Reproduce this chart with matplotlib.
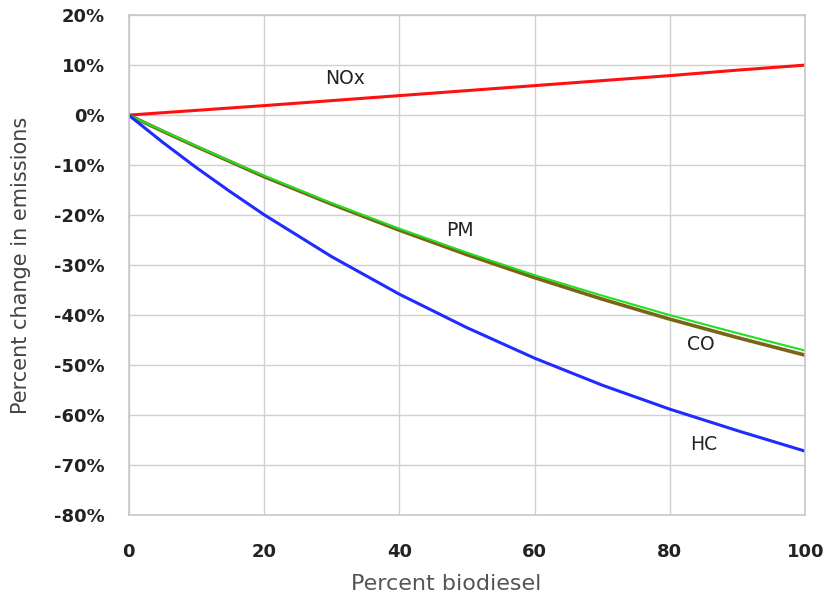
#!/usr/bin/env python3
import matplotlib
matplotlib.use("Agg")
import matplotlib.pyplot as plt
from matplotlib.ticker import FuncFormatter

# 讀圖估計的數值 (percent biodiesel vs percent change)
biodiesel = [0, 5, 10, 15, 20, 30, 40, 50, 60, 70, 80, 90, 100]
nox = [0, 0.48, 0.95, 1.43, 1.9, 2.9, 3.9, 4.9, 5.9, 6.9, 7.9, 9.0, 10.0]
pm = [0, -3.1, -6.2, -9.2, -12.1, -17.6, -22.7, -27.5, -32.0, -36.1, -40.0,
      -43.6, -47.1]
co = [0, -3.2, -6.3, -9.3, -12.3, -17.8, -23.0, -27.9, -32.5, -36.8, -40.8,
      -44.5, -48.0]
hc = [0, -5.4, -10.5, -15.3, -19.9, -28.3, -35.8, -42.5, -48.6, -54.0, -58.8,
      -63.1, -67.2]

x_ticks = [0, 20, 40, 60, 80, 100]
y_ticks = [20, 10, 0, -10, -20, -30, -40, -50, -60, -70, -80]


def main() -> None:
    fig = plt.figure(figsize=(8.25, 6.04), dpi=100)
    ax = fig.add_axes([0.156, 0.147, 0.82, 0.828])

    ax.plot(biodiesel, nox, color="#ff1010", lw=2.2)
    ax.plot(biodiesel, co, color="#7a6418", lw=2.6)
    ax.plot(biodiesel, pm, color="#20e020", lw=1.5)
    ax.plot(biodiesel, hc, color="#1f2bff", lw=2.2)

    # 曲線標籤
    lab = dict(fontsize=13.5, color="#222222")
    ax.text(32, 7.3, "NOx", ha="center", va="center", **lab)
    ax.text(49, -23, "PM", ha="center", va="center", **lab)
    ax.text(84.5, -45.8, "CO", ha="center", va="center", **lab)
    ax.text(85, -65.8, "HC", ha="center", va="center", **lab)

    ax.set_xlim(0, 100)
    ax.set_ylim(-80, 20)
    ax.set_xticks(x_ticks)
    ax.set_yticks(y_ticks)
    ax.yaxis.set_major_formatter(FuncFormatter(lambda v, p: f"{v:.0f}%"))
    ax.tick_params(length=0, labelsize=13, colors="#222222")
    ax.tick_params(axis="y", pad=17)
    ax.tick_params(axis="x", pad=20)
    for t in ax.get_xticklabels() + ax.get_yticklabels():
        t.set_fontweight("bold")

    ax.grid(True, color="#d0d0d0", lw=1)
    ax.set_axisbelow(True)
    for s in ax.spines.values():
        s.set_color("#c8c8c8")
        s.set_linewidth(1.2)

    ax.set_xlabel("Percent biodiesel", fontsize=16, color="#555555")
    ax.xaxis.set_label_coords(0.47, -0.118)
    ax.set_ylabel("Percent change in emissions", fontsize=15, color="#444444")
    ax.yaxis.set_label_coords(-0.145, 0.5)

    fig.savefig("out.png", dpi=100)


if __name__ == "__main__":
    main()
